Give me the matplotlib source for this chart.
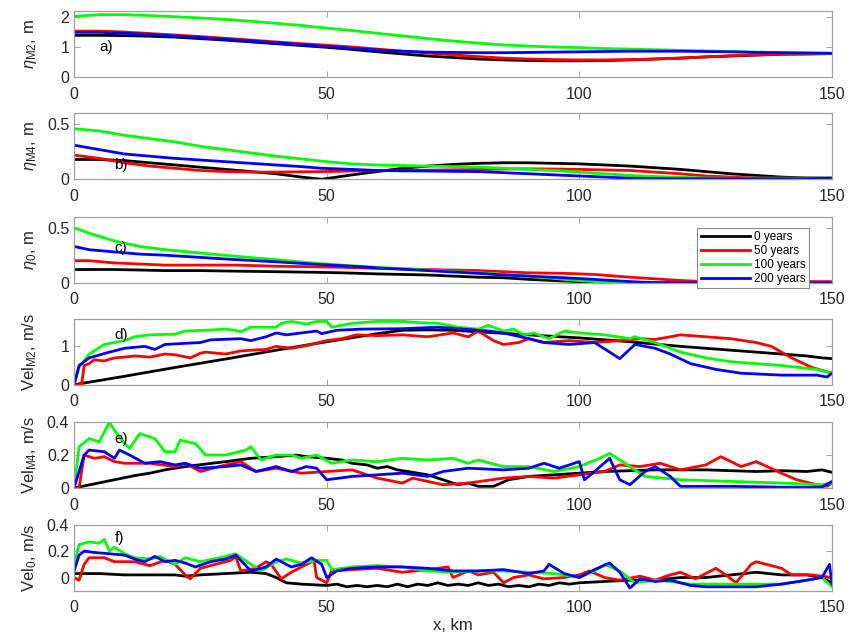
import numpy as np
from matplotlib import pyplot as plt

plt.rcParams['font.family'] = ['Liberation Sans Narrow', 'Liberation Sans', 'DejaVu Sans']
plt.rcParams['mathtext.fontset'] = 'custom'
plt.rcParams['mathtext.rm'] = 'Liberation Sans'
plt.rcParams['mathtext.it'] = 'Liberation Sans:italic'
plt.rcParams['mathtext.default'] = 'regular'

names = ['0 years', '50 years', '100 years', '200 years']
colors = ['k', '#ff0000', '#00ff00', '#0000ff']

# ---- a) eta M2 ----
a_x = [0, 5, 10, 15, 20, 25, 30, 35, 40, 45, 50, 55, 60, 65, 70, 75, 80, 85, 90, 95, 100, 105, 110, 115, 120, 125, 130, 135, 140, 145, 150]
a_black = [1.39, 1.39, 1.38, 1.36, 1.33, 1.28, 1.23, 1.17, 1.11, 1.05, 0.99, 0.92, 0.84, 0.77, 0.70, 0.65, 0.60, 0.57, 0.55, 0.54, 0.54, 0.55, 0.57, 0.60, 0.63, 0.67, 0.70, 0.73, 0.76, 0.77, 0.78]
a_red = [1.53, 1.53, 1.50, 1.45, 1.40, 1.35, 1.29, 1.23, 1.17, 1.11, 1.06, 1.00, 0.93, 0.86, 0.80, 0.74, 0.68, 0.63, 0.60, 0.58, 0.57, 0.57, 0.58, 0.60, 0.63, 0.67, 0.71, 0.74, 0.76, 0.77, 0.78]
a_green = [2.02, 2.08, 2.08, 2.05, 2.01, 1.97, 1.92, 1.86, 1.79, 1.72, 1.63, 1.55, 1.46, 1.37, 1.28, 1.20, 1.13, 1.07, 1.03, 1.00, 0.98, 0.95, 0.93, 0.91, 0.89, 0.87, 0.85, 0.83, 0.81, 0.80, 0.79]
a_blue = [1.49, 1.49, 1.46, 1.42, 1.37, 1.32, 1.26, 1.20, 1.14, 1.08, 1.02, 0.96, 0.90, 0.86, 0.83, 0.82, 0.81, 0.81, 0.82, 0.83, 0.84, 0.85, 0.86, 0.86, 0.86, 0.85, 0.84, 0.82, 0.81, 0.80, 0.79]

# ---- b) eta M4 ----
b_x = [0, 5, 10, 15, 20, 25, 30, 35, 40, 45, 49, 55, 60, 65, 70, 75, 80, 85, 90, 95, 100, 105, 110, 115, 120, 125, 130, 135, 140, 145, 150]
b_black = [0.18, 0.18, 0.17, 0.15, 0.13, 0.11, 0.09, 0.07, 0.05, 0.02, 0.0, 0.04, 0.07, 0.10, 0.12, 0.135, 0.145, 0.15, 0.15, 0.145, 0.14, 0.13, 0.12, 0.105, 0.09, 0.07, 0.05, 0.035, 0.02, 0.012, 0.01]
b_red = [0.22, 0.19, 0.15, 0.12, 0.10, 0.08, 0.07, 0.065, 0.065, 0.068, 0.07, 0.075, 0.078, 0.08, 0.083, 0.086, 0.09, 0.093, 0.095, 0.093, 0.09, 0.085, 0.08, 0.065, 0.05, 0.03, 0.02, 0.012, 0.01, 0.01, 0.01]
b_green = [0.46, 0.44, 0.40, 0.37, 0.34, 0.30, 0.27, 0.24, 0.21, 0.185, 0.165, 0.14, 0.13, 0.125, 0.12, 0.115, 0.11, 0.10, 0.09, 0.08, 0.065, 0.05, 0.035, 0.025, 0.018, 0.012, 0.01, 0.01, 0.01, 0.01, 0.01]
b_blue = [0.31, 0.27, 0.23, 0.21, 0.19, 0.175, 0.16, 0.145, 0.13, 0.115, 0.10, 0.09, 0.08, 0.077, 0.075, 0.072, 0.07, 0.06, 0.05, 0.04, 0.03, 0.02, 0.01, 0.006, 0.005, 0.005, 0.005, 0.005, 0.005, 0.005, 0.01]

# ---- c) eta 0 ----
c_x = [0, 3, 8, 13, 18, 25, 32, 40, 47, 53, 60, 70, 80, 85, 90, 97, 103, 110, 115, 120, 125, 150]
c_black = [0.12, 0.12, 0.12, 0.115, 0.11, 0.11, 0.105, 0.10, 0.095, 0.09, 0.08, 0.07, 0.05, 0.045, 0.03, 0.015, 0.005, 0.0, 0.0, 0.0, 0.0, 0.0]
c_red = [0.20, 0.20, 0.18, 0.17, 0.16, 0.16, 0.16, 0.15, 0.145, 0.14, 0.13, 0.12, 0.11, 0.10, 0.09, 0.085, 0.075, 0.05, 0.035, 0.02, 0.01, 0.01]
c_green = [0.50, 0.45, 0.38, 0.33, 0.30, 0.27, 0.24, 0.21, 0.18, 0.16, 0.14, 0.115, 0.09, 0.075, 0.06, 0.03, 0.01, 0.0, 0.0, 0.0, 0.0, 0.0]
c_blue = [0.33, 0.30, 0.28, 0.26, 0.25, 0.23, 0.21, 0.19, 0.17, 0.155, 0.135, 0.11, 0.085, 0.07, 0.06, 0.045, 0.03, 0.01, 0.0, 0.0, 0.0, 0.0]

# ---- d) Vel M2 ----
d_x_black = [0, 10, 20, 30, 40, 50, 60, 65, 70, 75, 80, 90, 100, 110, 120, 130, 140, 145, 148, 150]
d_black = [0.0, 0.22, 0.45, 0.67, 0.9, 1.12, 1.33, 1.42, 1.43, 1.42, 1.38, 1.3, 1.22, 1.12, 1.0, 0.9, 0.8, 0.75, 0.7, 0.68]
d_x_red = [0, 1.5, 2, 3, 4, 6, 8, 10, 12, 15, 18, 20, 23, 25, 26, 30, 33, 35, 38, 40, 43, 46, 50, 53, 56, 60, 65, 70, 75, 78, 80, 83, 85, 88, 90, 93, 98, 103, 108, 112, 115, 118, 120, 125, 130, 135, 138, 142, 146, 150]
d_red = [0.0, 0.0, 0.5, 0.55, 0.65, 0.62, 0.7, 0.72, 0.75, 0.72, 0.8, 0.78, 0.7, 0.82, 0.85, 0.8, 0.88, 0.9, 0.92, 1.0, 0.95, 1.02, 1.15, 1.2, 1.3, 1.28, 1.3, 1.25, 1.35, 1.25, 1.4, 1.15, 1.05, 1.1, 1.2, 1.1, 1.15, 1.1, 1.15, 1.2, 1.18, 1.25, 1.3, 1.25, 1.2, 1.1, 1.0, 0.7, 0.45, 0.3]
d_x_green = [0, 1, 3, 6, 10, 12, 15, 20, 22, 26, 30, 32, 33, 35, 40, 41, 43, 46, 48, 50, 51, 55, 60, 65, 68, 72, 76, 80, 82, 85, 87, 89, 91, 94, 97, 100, 105, 110, 111, 115, 120, 125, 130, 135, 140, 147, 150]
d_green = [0.0, 0.45, 0.8, 1.05, 1.15, 1.25, 1.3, 1.32, 1.4, 1.42, 1.45, 1.42, 1.38, 1.5, 1.5, 1.6, 1.65, 1.58, 1.65, 1.65, 1.5, 1.6, 1.65, 1.65, 1.62, 1.6, 1.5, 1.45, 1.55, 1.4, 1.45, 1.3, 1.35, 1.2, 1.4, 1.35, 1.3, 1.2, 1.25, 1.1, 0.85, 0.7, 0.6, 0.55, 0.5, 0.4, 0.3]
d_x_blue = [0, 1, 3, 7, 10, 14, 16, 18, 25, 27, 33, 35, 38, 40, 42, 48, 49, 52, 57, 65, 72, 77, 82, 85, 90, 93, 98, 103, 106, 108, 111, 115, 118, 122, 127, 132, 140, 147, 149, 150]
d_blue = [0.0, 0.5, 0.7, 0.85, 0.95, 1.0, 0.92, 1.05, 1.1, 1.17, 1.2, 1.15, 1.25, 1.35, 1.3, 1.4, 1.33, 1.42, 1.45, 1.46, 1.5, 1.45, 1.4, 1.35, 1.2, 1.1, 1.05, 1.1, 0.85, 0.68, 1.05, 0.95, 0.8, 0.55, 0.4, 0.3, 0.25, 0.25, 0.2, 0.3]

# ---- e) Vel M4 ----
e_x_black = [0, 4, 8, 12, 15, 18, 22, 26, 30, 35, 40, 44, 46, 48, 50, 53, 55, 58, 60, 62, 64, 66, 70, 73, 76, 78, 80, 83, 86, 88, 90, 95, 100, 105, 110, 115, 120, 125, 130, 135, 140, 145, 148, 150]
e_black = [0.0, 0.025, 0.05, 0.075, 0.09, 0.11, 0.13, 0.145, 0.16, 0.18, 0.19, 0.2, 0.19, 0.185, 0.18, 0.17, 0.15, 0.14, 0.12, 0.13, 0.11, 0.1, 0.08, 0.05, 0.02, 0.03, 0.01, 0.01, 0.05, 0.06, 0.07, 0.08, 0.09, 0.1, 0.105, 0.11, 0.11, 0.11, 0.105, 0.1, 0.105, 0.1, 0.11, 0.095]
e_x_red = [0, 1, 2, 4, 6, 8, 10, 15, 20, 22, 25, 30, 33, 36, 40, 45, 50, 55, 60, 65, 67, 73, 78, 85, 90, 95, 100, 105, 108, 112, 116, 120, 125, 128, 132, 135, 140, 143, 147, 149, 150]
e_red = [0.0, 0.0, 0.2, 0.18, 0.19, 0.16, 0.15, 0.15, 0.13, 0.15, 0.1, 0.14, 0.16, 0.1, 0.12, 0.09, 0.1, 0.11, 0.06, 0.03, 0.06, 0.02, 0.03, 0.06, 0.07, 0.06, 0.08, 0.1, 0.14, 0.13, 0.15, 0.11, 0.14, 0.19, 0.13, 0.16, 0.09, 0.05, 0.02, 0.01, 0.03]
e_x_green = [0, 1, 3, 5, 7, 8, 10, 11, 13, 16, 18, 20, 21, 24, 26, 30, 34, 35, 37, 40, 43, 45, 48, 51, 55, 60, 65, 70, 75, 78, 80, 85, 90, 95, 100, 104, 106, 110, 113, 120, 130, 140, 148, 150]
e_green = [0.0, 0.25, 0.3, 0.28, 0.4, 0.35, 0.27, 0.24, 0.33, 0.3, 0.22, 0.22, 0.29, 0.27, 0.2, 0.2, 0.23, 0.25, 0.17, 0.2, 0.2, 0.18, 0.2, 0.15, 0.17, 0.16, 0.18, 0.17, 0.18, 0.15, 0.17, 0.13, 0.13, 0.1, 0.13, 0.18, 0.21, 0.13, 0.07, 0.05, 0.04, 0.03, 0.02, 0.03]
e_x_blue = [0, 2, 3, 6, 8, 9, 11, 14, 17, 20, 22, 25, 30, 33, 36, 40, 43, 46, 48, 50, 55, 60, 65, 70, 73, 78, 85, 90, 93, 96, 100, 101, 103, 106, 108, 110, 113, 115, 118, 120, 130, 140, 148, 150]
e_blue = [0.0, 0.2, 0.23, 0.22, 0.18, 0.23, 0.2, 0.15, 0.16, 0.14, 0.15, 0.12, 0.13, 0.14, 0.1, 0.13, 0.1, 0.13, 0.12, 0.05, 0.07, 0.08, 0.09, 0.07, 0.1, 0.12, 0.11, 0.12, 0.15, 0.12, 0.16, 0.05, 0.1, 0.18, 0.05, 0.02, 0.1, 0.13, 0.07, 0.01, 0.01, 0.005, 0.005, 0.04]

# ---- f) Vel 0 ----
f_x_black = [0, 5, 10, 20, 22, 25, 30, 35, 38, 40, 42, 45, 50, 52, 54, 56, 58, 60, 62, 64, 66, 68, 70, 72, 74, 76, 78, 80, 82, 84, 86, 88, 90, 92, 94, 96, 98, 100, 105, 110, 115, 120, 125, 130, 135, 140, 145, 148, 150]
f_black = [0.03, 0.03, 0.02, 0.02, 0.01, 0.02, 0.03, 0.04, 0.03, 0.0, -0.04, -0.05, -0.06, -0.05, -0.07, -0.06, -0.07, -0.06, -0.07, -0.05, -0.07, -0.05, -0.06, -0.04, -0.06, -0.05, -0.06, -0.04, -0.06, -0.05, -0.07, -0.06, -0.07, -0.05, -0.06, -0.04, -0.05, -0.04, -0.03, -0.02, -0.02, 0.0, 0.0, 0.02, 0.04, 0.02, 0.02, 0.0, -0.04]
f_x_red = [0, 1, 2, 3, 6, 8, 12, 15, 18, 20, 22, 23, 25, 28, 31, 32, 33, 36, 38, 39, 41, 43, 46, 47.5, 48, 50, 51, 55, 60, 65, 70, 74, 75, 78, 80, 83, 85, 87, 90, 93, 97, 100, 102, 105, 108, 112, 115, 118, 120, 123, 127, 129, 131, 134, 135, 138, 140, 142, 146, 150]
f_red = [0.0, -0.02, 0.1, 0.15, 0.15, 0.12, 0.12, 0.09, 0.13, 0.1, 0.02, -0.01, 0.07, 0.1, 0.13, 0.16, 0.05, 0.07, 0.12, 0.1, -0.01, 0.04, 0.1, 0.13, 0.0, -0.04, 0.05, 0.06, 0.07, 0.04, 0.06, 0.08, 0.0, 0.05, 0.02, 0.04, -0.04, 0.0, 0.02, -0.01, 0.0, 0.02, 0.05, 0.0, -0.02, 0.01, -0.02, 0.02, 0.04, -0.01, 0.07, 0.02, -0.04, 0.1, 0.12, 0.09, 0.07, 0.02, 0.02, 0.0]
f_x_green = [0, 1, 3, 5, 6, 7, 8, 10, 12, 15, 17, 20, 22, 25, 30, 32, 35, 37, 40, 42, 45, 48, 50, 51, 55, 60, 65, 70, 75, 80, 85, 90, 95, 100, 103, 105, 108, 111, 115, 118, 122, 130, 140, 145, 148, 150]
f_green = [0.1, 0.25, 0.27, 0.26, 0.29, 0.2, 0.23, 0.18, 0.15, 0.14, 0.16, 0.1, 0.15, 0.12, 0.16, 0.18, 0.1, 0.05, 0.12, 0.14, 0.11, 0.13, 0.13, 0.06, 0.08, 0.09, 0.08, 0.05, 0.04, 0.05, 0.05, 0.04, 0.03, 0.0, 0.05, 0.1, 0.05, -0.04, -0.02, -0.03, -0.05, -0.05, -0.05, -0.02, 0.0, -0.07]
f_x_blue = [0, 1, 2, 4, 7, 10, 12, 14, 16, 18, 20, 22, 24, 27, 30, 32, 35, 38, 40, 43, 45, 47, 49, 50, 52, 55, 60, 65, 70, 75, 80, 85, 90, 93, 94, 97, 100, 103, 106, 108, 110, 112, 115, 118, 122, 125, 135, 140, 145, 148, 149.5, 150]
f_blue = [0.05, 0.17, 0.2, 0.19, 0.18, 0.17, 0.14, 0.12, 0.16, 0.12, 0.13, 0.11, 0.08, 0.12, 0.14, 0.17, 0.05, 0.08, 0.14, 0.08, 0.1, 0.15, 0.1, 0.0, 0.05, 0.07, 0.08, 0.08, 0.07, 0.05, 0.05, 0.06, 0.03, 0.05, 0.1, 0.03, 0.0, 0.06, 0.11, 0.04, -0.08, -0.01, -0.03, -0.02, -0.06, -0.07, -0.07, -0.05, -0.02, 0.0, 0.1, -0.05]

panels = [
    ([a_x] * 4, [a_black, a_red, a_green, a_blue], (0, 2.2), [0, 1, 2], ['0', '1', '2'], r'$\mathit{\eta}_{M2}$, m', 'a)', (5, 1.0)),
    ([b_x] * 4, [b_black, b_red, b_green, b_blue], (0, 0.6), [0, 0.5], ['0', '0.5'], r'$\mathit{\eta}_{M4}$, m', 'b)', (8, 0.13)),
    ([c_x] * 4, [c_black, c_red, c_green, c_blue], (0, 0.6), [0, 0.5], ['0', '0.5'], r'$\mathit{\eta}_{0}$, m', 'c)', (8, 0.32)),
    ([d_x_black, d_x_red, d_x_green, d_x_blue], [d_black, d_red, d_green, d_blue], (0, 1.72), [0, 1], ['0', '1'], r'Vel$_{M2}$, m/s', 'd)', (8, 1.3)),
    ([e_x_black, e_x_red, e_x_green, e_x_blue], [e_black, e_red, e_green, e_blue], (0, 0.4), [0, 0.2, 0.4], ['0', '0.2', '0.4'], r'Vel$_{M4}$, m/s', 'e)', (8, 0.3)),
    ([f_x_black, f_x_red, f_x_green, f_x_blue], [f_black, f_red, f_green, f_blue], (-0.1, 0.4), [0, 0.2, 0.4], ['0', '0.2', '0.4'], r'Vel$_{0}$, m/s', 'f)', (8, 0.3)),
]

fig = plt.figure(figsize=(8.51, 6.38), dpi=100)
bottoms = [0.8793, 0.719, 0.5569, 0.397, 0.2351, 0.0741]
axes = []
for i, (xs, ys, ylim, yt, ytl, ylab, letter, lpos) in enumerate(panels):
    ax = fig.add_axes([0.087, bottoms[i], 0.8907, 0.1034])
    for xx, yy, c, nm in zip(xs, ys, colors, names):
        ax.plot(xx, yy, color=c, lw=2.0, label=nm)
    ax.set_xlim(0, 150)
    ax.set_ylim(*ylim)
    ax.set_xticks([0, 50, 100, 150])
    ax.set_yticks(yt)
    ax.set_yticklabels(ytl)
    ax.tick_params(direction='in', length=4, width=0.6, top=True, right=True,
                   labelsize=11.5, colors='#999999', labelcolor='#262626')
    ax.tick_params(axis='x', pad=7)
    for s in ax.spines.values():
        s.set_color('#a0a0a0')
        s.set_linewidth(0.9)
    ax.set_ylabel(ylab, fontsize=12, color='#262626')
    ax.yaxis.set_label_coords(-0.046, 0.5)
    ax.text(lpos[0], lpos[1], letter, fontsize=11, color='k', va='center')
    axes.append(ax)

leg = axes[2].legend(loc='upper left', bbox_to_anchor=(0.822, 0.83), fontsize=8.5,
                     handlelength=4.2, frameon=True, fancybox=False, framealpha=1,
                     edgecolor='#888888', borderpad=0.3, labelspacing=0.15,
                     handletextpad=0.3, borderaxespad=0)
leg.get_frame().set_linewidth(0.8)

axes[-1].set_xlabel('x, km', fontsize=12, color='#262626', labelpad=2)

fig.savefig('out.png', dpi=100)
